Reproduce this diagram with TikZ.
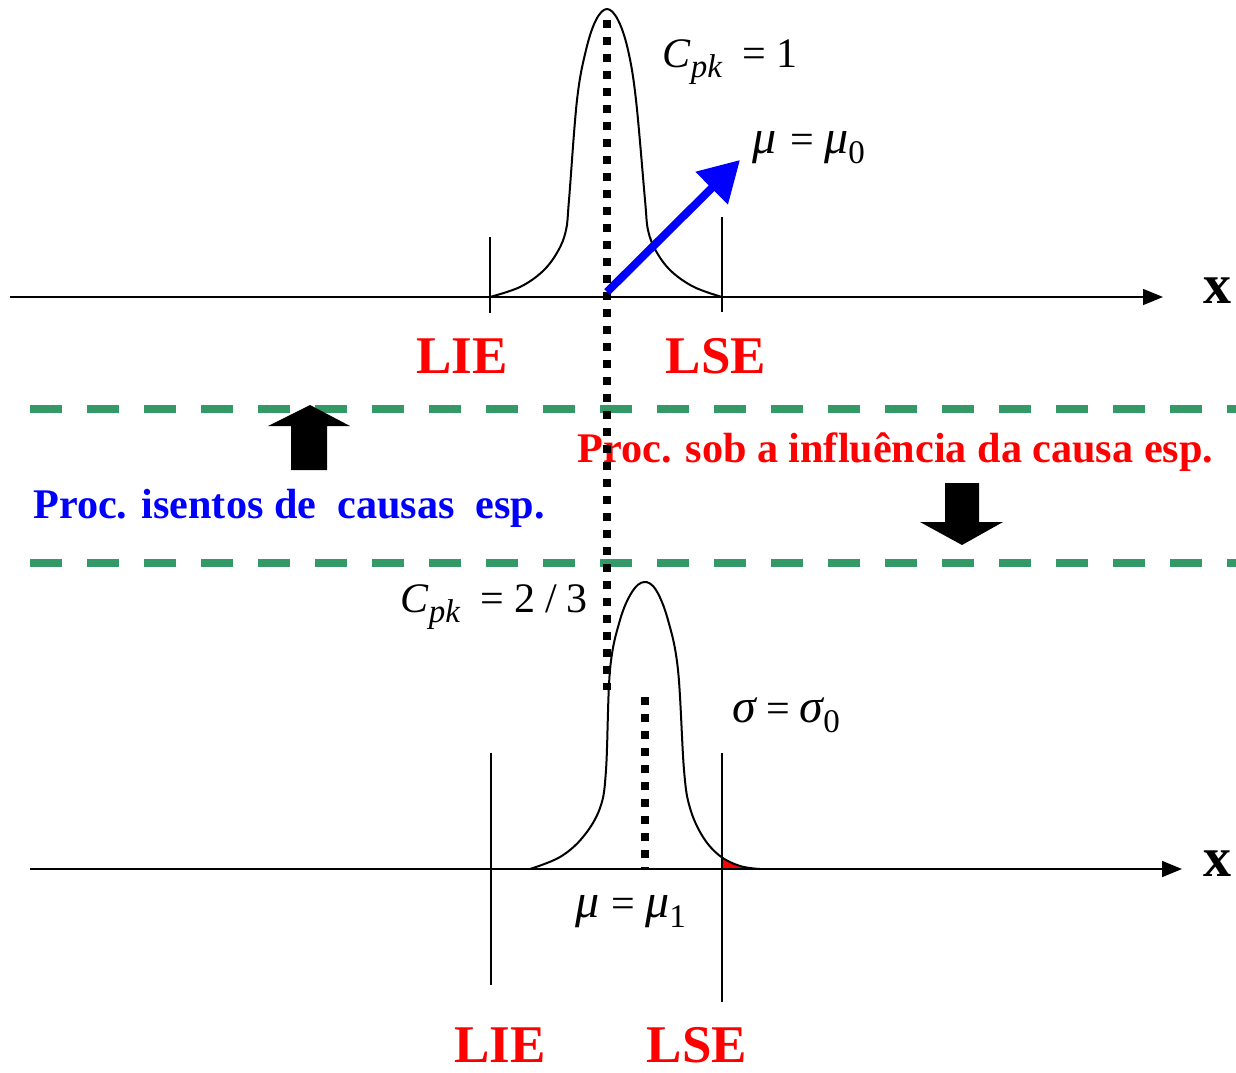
\documentclass[tikz,border=0pt]{standalone}
\usepackage{fontspec}
\setmainfont{Liberation Serif}
\usepackage{tikz}
\usetikzlibrary{arrows.meta,positioning}
\definecolor{specgreen}{RGB}{51,153,102}
\definecolor{limred}{RGB}{255,0,0}
\definecolor{shiftblue}{RGB}{0,0,255}
\newcommand{\lowsub}[1]{\raisebox{-5pt}{\fontsize{16.5}{17}\selectfont #1}}
\newcommand{\gk}[1]{{\fontsize{24}{26}\selectfont\itshape #1}}

\begin{document}
\begin{tikzpicture}[x=0.5pt, y=-0.5pt,
  axis/.style={line width=0.75pt, -{Triangle[length=10pt,width=8pt]}},
  spec/.style={line width=0.75pt},
  bell/.style={line width=1pt},
  meanline/.style={line width=3.8pt, dash pattern=on 3.8pt off 4.7pt},
  band/.style={draw=specgreen, line width=4pt, dash pattern=on 16pt off 12.5pt},
  shiftarrow/.style={draw=shiftblue, line width=4pt, -{Triangle[length=20pt,width=22pt]}},
  lim/.style={font=\fontsize{26.5}{30}\selectfont\bfseries, text=limred,
              inner sep=0pt, anchor=base},
  eq/.style={font=\fontsize{21}{23}\selectfont, inner sep=0pt, anchor=base west},
  proc/.style={font=\fontsize{21.1}{24}\selectfont\bfseries, inner sep=0pt,
               anchor=base west},
  xlab/.style={font=\fontsize{28}{30}\selectfont\bfseries, inner sep=0pt,
               anchor=base},
]
\useasboundingbox (0,0) rectangle (1236,1072);

% Band between the two states
\coordinate (bandAw) at (30,409);   \coordinate (bandAe) at (1236,409);
\coordinate (bandBw) at (30,563);   \coordinate (bandBe) at (1236,563);
\draw[band] (bandAw) -- (bandAe);
\draw[band] (bandBw) -- (bandBe);

% Top state — axis, limits, curve
\coordinate (axAs) at (10,297);     \coordinate (axAe) at (1163,297);
\draw[axis] (axAs) -- (axAe);
\node[xlab] (xA) at (1217,303) {x};
\coordinate (lieAt) at (490,237);   \coordinate (lieAb) at (490,313);
\coordinate (lseAt) at (722,217);   \coordinate (lseAb) at (722,312);
\draw[spec] (lieAt) -- (lieAb);
\draw[spec] (lseAt) -- (lseAb);
\draw[bell] plot[smooth, tension=0.6] coordinates {
  (490,297) (520,287) (543,271) (558,251) (566,230) (569,200) (577,100)
  (586,50) (596,20) (607,9) (618,20) (628,50) (636,100) (645,200)
  (648,230) (656,251) (671,271) (694,287) (722,297)};
\node[lim] (lieA) at (462,373) {LIE};
\node[lim] (lseA) at (716,373) {LSE};
\node[eq] (cpkA) at (662,67)
  {\textit{C}\lowsub{\textit{pk}}\hspace{10pt}=\hspace{5pt}1};
\node[eq] (muA) at (752,153)
  {\gk{μ}\hspace{7pt}=\hspace{5pt}\gk{μ}\lowsub{0}};

% Bottom state — axis, limits, shifted curve
\coordinate (axBs) at (30,869);     \coordinate (axBe) at (1182,869);
\begin{scope}
  \clip (722,800) rectangle (790,869);
  \fill[limred] plot[smooth, tension=0.6] coordinates {
    (530,869) (560,857) (583,837) (600,808) (606,770) (610,670) (620,620)
    (632,592) (644,582) (656,590) (668,620) (678,670) (684,770) (690,808)
    (703,837) (720,856) (740,866) (760,869)} -- cycle;
\end{scope}
\draw[axis] (axBs) -- (axBe);
\node[xlab] (xB) at (1217,876) {x};
\coordinate (lieBt) at (491,753);   \coordinate (lieBb) at (491,985);
\coordinate (lseBt) at (722,753);   \coordinate (lseBb) at (722,1002);
\draw[spec] (lieBt) -- (lieBb);
\draw[spec] (lseBt) -- (lseBb);
\draw[bell] plot[smooth, tension=0.6] coordinates {
  (530,869) (560,857) (583,837) (600,808) (606,770) (610,670) (620,620)
  (632,592) (644,582) (656,590) (668,620) (678,670) (684,770) (690,808)
  (703,837) (720,856) (740,866) (760,869)};
\node[lim] (lieB) at (500,1062) {LIE};
\node[lim] (lseB) at (697,1062) {LSE};
\node[eq] (cpkB) at (400,612)
  {\textit{C}\lowsub{\textit{pk}}\hspace{10pt}=\hspace{5pt}2\hspace{5pt}/\hspace{5pt}3};
\node[eq] (sigB) at (732,722)
  {\gk{σ}\hspace{5pt}=\hspace{5pt}\gk{σ}\lowsub{0}};
\node[eq] (muB) at (575,917)
  {\gk{μ}\hspace{6pt}=\hspace{5pt}\gk{μ}\lowsub{1}};

% Captions and block arrows
\node[proc, text=shiftblue] (free) at (33,518) {Proc. isentos de\ \ causas\ \ esp.};
\node[proc, text=limred] (cause) at (577,462) {Proc. sob a influência da causa esp.};
\fill (310,405) -- (350,426) -- (327,426) -- (327,470) -- (291,470)
  -- (291,426) -- (268,426) -- cycle;
\fill (962,545) -- (1003,522) -- (979,522) -- (979,483) -- (945,483)
  -- (945,522) -- (920,522) -- cycle;

% Means
\coordinate (meanAt) at (607,20);   \coordinate (meanAb) at (607,690);
\coordinate (meanBt) at (645,697);  \coordinate (meanBb) at (645,869);
\draw[meanline] (meanAt) -- (meanAb);
\draw[meanline] (meanBt) -- (meanBb);
\coordinate (shiftS) at (607,292);  \coordinate (shiftE) at (740,160);
\draw[shiftarrow] (shiftS) -- (shiftE);
\end{tikzpicture}
\end{document}
